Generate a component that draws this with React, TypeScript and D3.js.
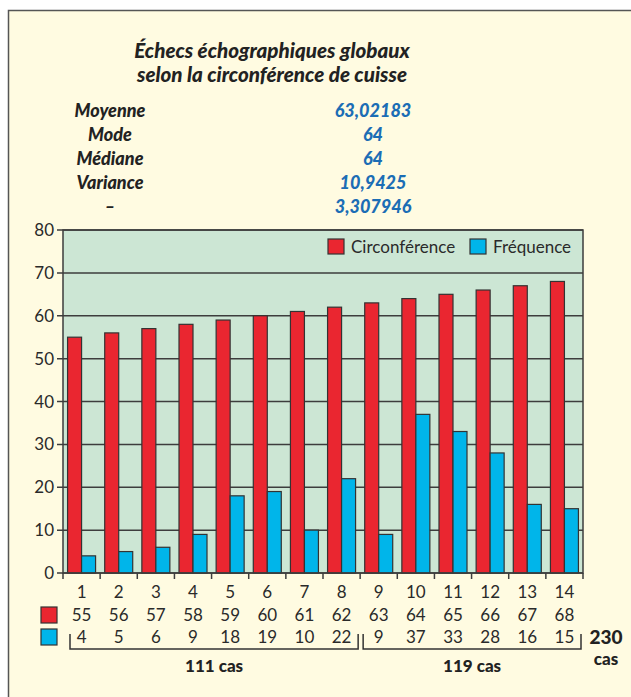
import { useEffect, useRef } from "react";
import * as d3 from "d3";

const categories = ["1", "2", "3", "4", "5", "6", "7", "8", "9", "10", "11", "12", "13", "14"];
const circonference = [55, 56, 57, 58, 59, 60, 61, 62, 63, 64, 65, 66, 67, 68];
const frequence = [4, 5, 6, 9, 18, 19, 10, 22, 9, 37, 33, 28, 16, 15];
const seriesNames = ["Circonférence", "Fréquence"];
const seriesColors = ["#ea2630", "#00b5ea"];
const yTicks = [0, 10, 20, 30, 40, 50, 60, 70, 80];

const statLabels = ["Moyenne", "Mode", "Médiane", "Variance", "–"];
const statValues = ["63,02183", "64", "64", "10,9425", "3,307946"];

// groupes de cas sous le tableau
const groups = [
  { from: 0, to: 7, label: "111 cas" },
  { from: 8, to: 13, label: "119 cas" },
];
const totalLabel = ["230", "cas"];

const W = 631;
const H = 697;
const FONT = "Lato, 'Open Sans', sans-serif";

export default function App() {
  const svgRef = useRef<SVGSVGElement>(null);

  useEffect(() => {
    if (!svgRef.current) return;
    const svg = d3.select(svgRef.current);
    svg.selectAll("*").remove();

    // fond crème avec cadre
    svg.append("rect").attr("width", W).attr("height", H).attr("fill", "#ffffff");
    svg
      .append("rect")
      .attr("x", 8.5)
      .attr("y", 10.5)
      .attr("width", W + 10)
      .attr("height", H + 10)
      .attr("fill", "#fffbe1")
      .attr("stroke", "#555")
      .attr("stroke-width", 1.5);

    // Titre
    const title = svg
      .append("text")
      .attr("text-anchor", "middle")
      .style("font-family", FONT)
      .style("font-weight", 900)
      .style("font-style", "italic")
      .style("font-size", "20.6px")
      .attr("fill", "#222");
    title.append("tspan").attr("x", 272).attr("y", 58).text("Échecs échographiques globaux");
    title.append("tspan").attr("x", 272).attr("y", 82).text("selon la circonférence de cuisse");

    // Statistiques
    statLabels.forEach((lab, i) => {
      svg
        .append("text")
        .attr("x", 110)
        .attr("y", 117 + i * 24)
        .attr("text-anchor", "middle")
        .style("font-family", FONT)
        .style("font-weight", 900)
        .style("font-style", "italic")
        .style("font-size", "18px")
        .attr("fill", "#222")
        .text(lab);
      svg
        .append("text")
        .attr("x", 373)
        .attr("y", 117 + i * 24)
        .attr("text-anchor", "middle")
        .style("font-family", FONT)
        .style("font-weight", 900)
        .style("font-style", "italic")
        .style("font-size", "18px")
        .attr("fill", "#1b6db5")
        .text(statValues[i]);
    });

    const left = 63;
    const right = 583;
    const top = 230;
    const bottom = 573;

    const x = d3.scaleBand<string>().domain(categories).range([left, right]).padding(0);
    const bw = x.bandwidth();
    const x1 = d3
      .scaleBand<string>()
      .domain(seriesNames)
      .range([(bw - 28) / 2, (bw + 28) / 2]);
    const y = d3.scaleLinear().domain([0, 80]).range([bottom, top]);

    // zone du graphe
    svg
      .append("rect")
      .attr("x", left)
      .attr("y", top)
      .attr("width", right - left)
      .attr("height", bottom - top)
      .attr("fill", "#cce6d4");

    // grille
    svg
      .append("g")
      .selectAll("line")
      .data(yTicks)
      .join("line")
      .attr("x1", left - 6)
      .attr("x2", right)
      .attr("y1", (d) => y(d))
      .attr("y2", (d) => y(d))
      .attr("stroke", "#3d3d3d")
      .attr("stroke-width", 1.5);

    svg
      .append("g")
      .selectAll("text")
      .data(yTicks)
      .join("text")
      .attr("x", 54)
      .attr("y", (d) => y(d) + 6)
      .attr("text-anchor", "end")
      .style("font-family", FONT)
      .style("font-size", "17px")
      .attr("fill", "#2a2a2a")
      .text((d) => d);

    // barres
    const data = categories.map((c, i) => ({ c, vals: [circonference[i], frequence[i]] }));
    const grp = svg
      .append("g")
      .selectAll("g")
      .data(data)
      .join("g")
      .attr("transform", (d) => `translate(${x(d.c)},0)`);
    grp
      .selectAll("rect")
      .data((d) => d.vals.map((v, k) => ({ v, k })))
      .join("rect")
      .attr("x", (d) => x1(seriesNames[d.k])!)
      .attr("width", x1.bandwidth())
      .attr("y", (d) => y(d.v))
      .attr("height", (d) => y(0) - y(d.v))
      .attr("fill", (d) => seriesColors[d.k])
      .attr("stroke", "#333")
      .attr("stroke-width", 1.2);

    // cadre de la zone
    svg
      .append("rect")
      .attr("x", left)
      .attr("y", top)
      .attr("width", right - left)
      .attr("height", bottom - top)
      .attr("fill", "none")
      .attr("stroke", "#3d3d3d")
      .attr("stroke-width", 1.5);

    // graduations en bas
    const bounds = categories.map((c) => x(c)!).concat([right]);
    svg
      .append("g")
      .selectAll("line")
      .data(bounds)
      .join("line")
      .attr("x1", (d) => d)
      .attr("x2", (d) => d)
      .attr("y1", bottom)
      .attr("y2", bottom + 6)
      .attr("stroke", "#3d3d3d")
      .attr("stroke-width", 1.5);

    // légende
    const legX = [328, 470];
    seriesNames.forEach((s, i) => {
      svg
        .append("rect")
        .attr("x", legX[i])
        .attr("y", 239)
        .attr("width", 16)
        .attr("height", 15)
        .attr("fill", seriesColors[i])
        .attr("stroke", "#333")
        .attr("stroke-width", 1.2);
      svg
        .append("text")
        .attr("x", legX[i] + 23)
        .attr("y", 253)
        .style("font-family", FONT)
        .style("font-size", "17px")
        .attr("fill", "#2a2a2a")
        .text(s);
    });

    // tableau sous l'axe
    const rows = [categories, circonference.map(String), frequence.map(String)];
    const rowY = [598, 621, 643];
    rows.forEach((r, ri) => {
      svg
        .append("g")
        .selectAll("text")
        .data(r)
        .join("text")
        .attr("x", (_, i) => x(categories[i])! + bw / 2)
        .attr("y", rowY[ri])
        .attr("text-anchor", "middle")
        .style("font-family", FONT)
        .style("font-size", "17px")
        .attr("fill", "#2a2a2a")
        .text((d) => d);
    });
    [0, 1].forEach((k) => {
      svg
        .append("rect")
        .attr("x", 41)
        .attr("y", k === 0 ? 607 : 629)
        .attr("width", 16)
        .attr("height", 16)
        .attr("fill", seriesColors[k])
        .attr("stroke", "#333")
        .attr("stroke-width", 1.2);
    });

    // accolades
    groups.forEach((g, gi) => {
      const x0 = gi === 0 ? x(categories[g.from])! + 7 : x(categories[g.from])! + 3;
      const xEnd = gi === 0 ? x(categories[g.to])! + bw - 2 : right - 2;
      svg
        .append("path")
        .attr("d", `M${x0},634 V649 H${xEnd} V634`)
        .attr("fill", "none")
        .attr("stroke", "#333")
        .attr("stroke-width", 1.5);
      svg
        .append("text")
        .attr("x", (x0 + xEnd) / 2)
        .attr("y", 672)
        .attr("text-anchor", "middle")
        .style("font-family", FONT)
        .style("font-weight", 900)
        .style("font-size", "17px")
        .attr("fill", "#222")
        .text(g.label);
    });
    totalLabel.forEach((t, i) => {
      svg
        .append("text")
        .attr("x", 606)
        .attr("y", i === 0 ? 644 : 665)
        .attr("text-anchor", "middle")
        .style("font-family", FONT)
        .style("font-weight", 900)
        .style("font-size", i === 0 ? "19px" : "17px")
        .attr("fill", "#222")
        .text(t);
    });
  }, []);

  return (
    <svg
      ref={svgRef}
      width={W}
      height={H}
      style={{ position: "absolute", left: 0, top: 0, display: "block" }}
    />
  );
}
